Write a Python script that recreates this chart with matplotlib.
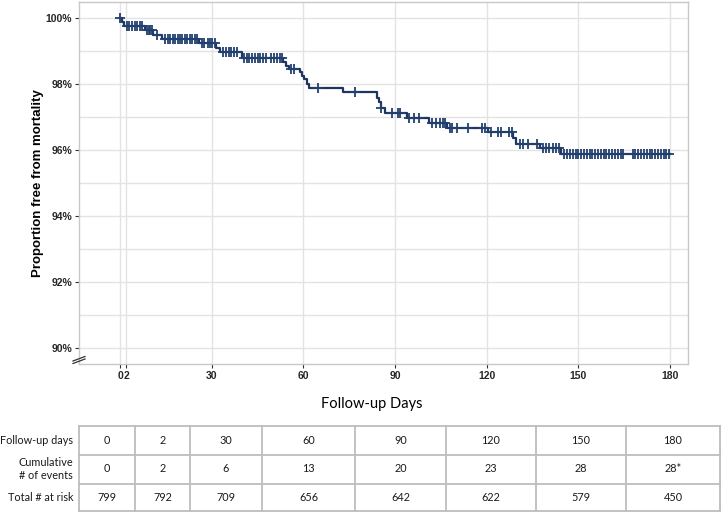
import numpy as np
import matplotlib
matplotlib.use("Agg")
import matplotlib.pyplot as plt
from matplotlib.lines import Line2D

# ---- data ----
step_days = [0, 0.6, 1.1, 8.0, 10.9, 13.6, 25.9, 31.4, 32.7, 39.8, 53.4, 54.3, 55.3,
             58.9, 59.5, 60.2, 61.1, 61.8, 73.1, 84.0, 84.8, 85.3, 86.7, 94.0,
             101.1, 107.2, 120.5, 128.7, 129.8, 137.4, 144.5]
survival = [100.0, 99.90, 99.77, 99.64, 99.51, 99.38, 99.26, 99.11, 98.98, 98.80,
            98.67, 98.56, 98.45, 98.37, 98.25, 98.15, 98.02, 97.89, 97.76, 97.59,
            97.46, 97.29, 97.13, 96.98, 96.83, 96.68, 96.55, 96.37, 96.19, 96.06, 95.87]
end_day = 180

censor_days = [0, 2.2, 3.0, 4.0, 4.8, 5.6, 6.4, 7.2,
               8.7, 9.3, 9.8, 10.4, 12.0,
               14.8, 15.6, 16.4, 17.2, 18.0, 18.8, 19.6, 20.4, 21.2, 22.0, 22.8, 23.6, 24.4, 25.2,
               26.7, 27.6, 28.6, 29.4, 30.2, 31.0,
               33.7, 34.6, 35.5, 36.4, 37.3, 38.2,
               40.5, 41.4, 42.3, 43.2, 44.1, 45.0, 45.9, 46.8, 47.7, 49.5, 50.4, 51.3, 52.2, 53.0,
               55.8, 56.8, 64.7, 76.9, 85.5, 88.9, 91.1, 91.8,
               94.7, 96.3, 97.9, 102.0, 103.4, 104.7, 105.7, 106.4,
               108.0, 108.8, 110.2, 114.0, 118.4, 119.4,
               121.6, 123.8, 124.9, 127.4, 128.2, 130.9, 132.0, 133.6, 136.5,
               138.4, 139.5, 140.6, 141.7, 142.8, 143.9,
               145.5, 146.5, 147.4, 148.3, 149.2, 150.1, 151.0, 152.0, 152.9, 153.8, 154.7,
               155.6, 156.6, 157.5, 158.4, 159.3, 160.2, 161.1, 162.1, 163.0, 163.9, 164.8,
               167.9, 168.8, 169.7, 170.6, 171.5, 172.5, 173.4, 174.3, 175.2, 176.1, 177.0,
               178.0, 178.9, 179.8]

x_ticks = [0, 2, 30, 60, 90, 120, 150, 180]
y_ticks = [90, 92, 94, 96, 98, 100]
y_tick_labels = ["90%", "92%", "94%", "96%", "98%", "100%"]

table_row_labels = ["Follow-up days", "Cumulative\n# of events", "Total # at risk"]
table_days = ["0", "2", "30", "60", "90", "120", "150", "180"]
table_events = ["0", "2", "6", "13", "20", "23", "28", "28*"]
table_at_risk = ["799", "792", "709", "656", "642", "622", "579", "450"]

# ---- figure ----
W, H = 722, 514
fig = plt.figure(figsize=(W / 100, H / 100), dpi=100)

def fx(px):
    return px / W

def fy(py):
    return 1 - py / H

ax = fig.add_axes([fx(79), fy(364), fx(688) - fx(79), fy(2) - fy(364)])
ax.set_xlim(-13.5, 186)
ax.set_ylim(89.5, 100.5)

navy = "#1d3560"
xs = list(step_days) + [end_day]
ys = list(survival) + [survival[-1]]
ax.step(xs, ys, where="post", color=navy, lw=1.6, zorder=3)

sd = np.array(step_days)
cs = np.array(censor_days)
idx = np.searchsorted(sd, cs, side="right") - 1
cy = np.array(survival)[idx]
ax.plot(cs, cy, linestyle="none", marker="+", ms=6.5, mew=1.3, color="#22406e", zorder=4)

# grid
grid_c = "#e3e3e3"
ax.set_xticks(x_ticks)
ax.set_xticklabels([str(v) for v in x_ticks])
ax.set_yticks(y_ticks)
ax.set_yticklabels(y_tick_labels)
ax.set_yticks([91, 93, 95, 97, 99], minor=True)
ax.grid(True, which="major", color=grid_c, lw=1.0, zorder=0)
ax.grid(True, which="minor", axis="y", color=grid_c, lw=1.0, zorder=0)
ax.set_axisbelow(True)

for s in ax.spines.values():
    s.set_color("#c8c8c8")
    s.set_linewidth(1.0)

ax.tick_params(axis="both", which="major", length=3, width=0.8, color="#333333",
               labelsize=7.5, labelcolor="#262626", pad=2)
ax.tick_params(axis="y", which="minor", length=0)
for lab in ax.get_xticklabels() + ax.get_yticklabels():
    lab.set_fontfamily("Liberation Sans")
    lab.set_fontweight("bold")

fig.text(fx(38), fy(183), "Proportion free from mortality", rotation=90,
         ha="center", va="center", fontsize=9.5, fontweight="bold",
         family="Liberation Sans", color="black")

fig.text(fx(371.5), fy(404), "Follow-up Days", ha="center", va="center",
         fontsize=10.5, family="Lato", color="black")

# axis break mark
for off in (0, 2.5):
    fig.add_artist(Line2D([fx(73), fx(85)], [fy(363.5 - off), fy(359 - off)],
                          color="#333333", lw=0.9))

# ---- table ----
col_edges = [79, 135, 190, 262, 355, 446, 536, 626, 720]
row_edges = [426, 454.5, 483.5, 511]
tc = "#bdbdbd"
for x in col_edges:
    fig.add_artist(Line2D([fx(x), fx(x)], [fy(row_edges[0]), fy(row_edges[-1])], color=tc, lw=1.3))
for y in row_edges:
    fig.add_artist(Line2D([fx(col_edges[0]), fx(col_edges[-1])], [fy(y), fy(y)], color=tc, lw=1.3))

rows = [table_days, table_events, table_at_risk]
tfont = dict(family="Lato", fontsize=7.8, color="#1a1a1a")
for r, (lab, vals) in enumerate(zip(table_row_labels, rows)):
    yc = (row_edges[r] + row_edges[r + 1]) / 2
    fig.text(fx(73), fy(yc), lab, ha="right", va="center", linespacing=1.3, **tfont)
    for c, v in enumerate(vals):
        xc = (col_edges[c] + col_edges[c + 1]) / 2
        fig.text(fx(xc), fy(yc), v, ha="center", va="center", **tfont)

fig.savefig("out.png", dpi=100)
